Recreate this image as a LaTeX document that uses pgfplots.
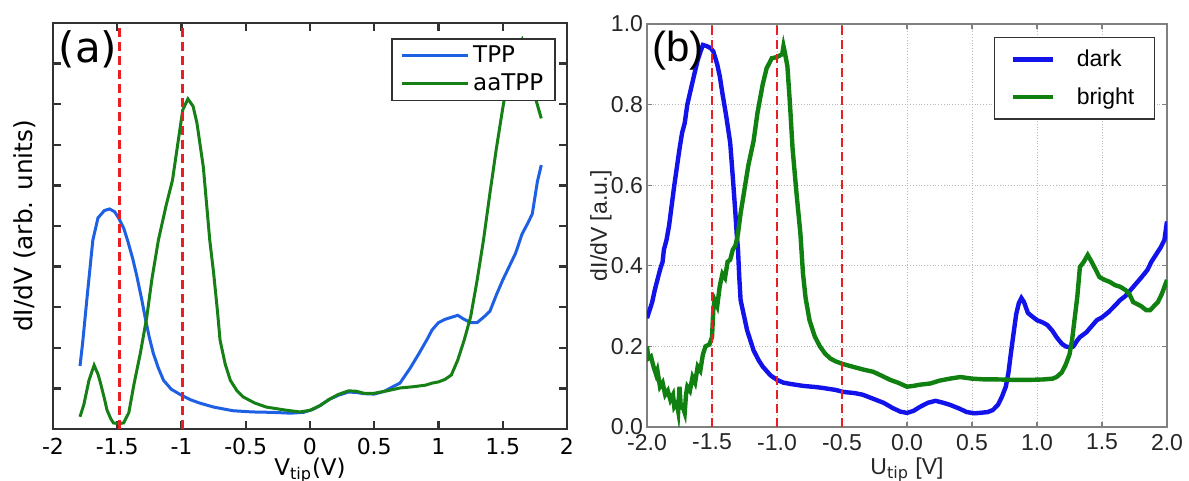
\documentclass[border=0pt]{standalone}
\usepackage{fontspec}
\setmainfont{DejaVu Sans}
\newfontfamily\arialf{Liberation Sans}
\usepackage{pgfplots}
\pgfplotsset{compat=1.18}

\definecolor{tppblue}{RGB}{30,96,228}
\definecolor{aagreen}{RGB}{22,128,22}
\definecolor{darkblue}{RGB}{18,18,235}
\definecolor{brightgreen}{RGB}{16,128,16}
\definecolor{refred}{RGB}{235,30,35}
\definecolor{axisgray}{RGB}{50,50,50}

\begin{document}
\begin{tikzpicture}
% ---------------- panel (a)
\begin{axis}[
  at={(26.5pt,26pt)}, anchor=south west,
  scale only axis, width=257pt, height=203pt,
  xmin=-2, xmax=2, ymin=0, ymax=1,
  xtick={-2,-1.5,-1,-0.5,0,0.5,1,1.5,2},
  xticklabels={-2,-1.5,-1,-0.5,0,0.5,1,1.5,2},
  ytick={0,0.1,0.2,0.3,0.4,0.5,0.6,0.7,0.8,0.9,1},
  yticklabels={},
  tick align=inside, major tick length=4pt,
  axis line style={axisgray, line width=1.4pt},
  every tick/.style={axisgray, line width=1.2pt},
  tick label style={font=\fontsize{11}{12}\selectfont},
  xticklabel style={yshift=-1pt},
  xlabel={V$_{\mathrm{tip}}$(V)},
  ylabel={dI/dV (arb. units)},
  xlabel style={font=\fontsize{11.5}{13}\selectfont, at={(axis description cs:0.5,0)}, anchor=north, inner sep=0pt, yshift=-14.5pt},
  ylabel style={font=\fontsize{12.4}{14}\selectfont, at={(axis description cs:0,0.5)}, anchor=center, inner sep=0pt, yshift=14pt},
  legend style={at={(1,1)}, anchor=north east, xshift=-5.5pt, yshift=-7.5pt,
    draw=axisgray, line width=0.8pt, fill=white,
    font=\fontsize{11.5}{13}\selectfont,
    inner xsep=4pt, inner ysep=1.5pt, row sep=0pt, cells={anchor=west}},
  legend image code/.code={\draw[#1] (0pt,0pt) -- (33pt,0pt);},
]
\addplot[tppblue, line width=1.5pt] coordinates {
(-1.79,0.155) (-1.77,0.21) (-1.73,0.34) (-1.69,0.465) (-1.65,0.52) (-1.60,0.538)
(-1.56,0.542) (-1.52,0.535) (-1.49,0.52) (-1.45,0.495) (-1.42,0.465) (-1.38,0.42)
(-1.35,0.38) (-1.31,0.32) (-1.28,0.27) (-1.25,0.225) (-1.22,0.187) (-1.18,0.15)
(-1.14,0.12) (-1.08,0.098) (-1.0,0.083) (-0.93,0.072) (-0.86,0.064) (-0.75,0.054)
(-0.6,0.045) (-0.45,0.042) (-0.3,0.041) (-0.15,0.039) (-0.05,0.041) (0.02,0.048)
(0.08,0.058) (0.15,0.073) (0.22,0.083) (0.3,0.091) (0.36,0.09) (0.42,0.087)
(0.5,0.086) (0.58,0.093) (0.65,0.105) (0.7,0.113) (0.78,0.15) (0.85,0.187)
(0.91,0.22) (0.95,0.244) (1.0,0.262) (1.05,0.27) (1.1,0.275) (1.15,0.28)
(1.2,0.27) (1.25,0.262) (1.3,0.262) (1.35,0.275) (1.4,0.29) (1.45,0.33)
(1.5,0.367) (1.55,0.4) (1.6,0.433) (1.65,0.48) (1.7,0.51) (1.73,0.53)
(1.77,0.61) (1.80,0.65)};
\addlegendentry{TPP}
\addplot[aagreen, line width=1.5pt] coordinates {
(-1.79,0.03) (-1.76,0.06) (-1.72,0.12) (-1.68,0.157) (-1.65,0.135) (-1.63,0.113)
(-1.6,0.075) (-1.58,0.047) (-1.55,0.025) (-1.53,0.015) (-1.49,0.013) (-1.45,0.015)
(-1.41,0.04) (-1.37,0.11) (-1.32,0.187) (-1.27,0.276) (-1.23,0.37) (-1.18,0.465)
(-1.12,0.55) (-1.07,0.613) (-1.03,0.7) (-0.99,0.786) (-0.95,0.813) (-0.91,0.795)
(-0.88,0.754) (-0.83,0.645) (-0.78,0.465) (-0.75,0.384) (-0.72,0.29) (-0.70,0.219)
(-0.66,0.16) (-0.62,0.12) (-0.57,0.095) (-0.52,0.079) (-0.43,0.064) (-0.34,0.054)
(-0.2,0.047) (-0.08,0.042) (0.0,0.046) (0.08,0.058) (0.15,0.073) (0.22,0.085)
(0.3,0.094) (0.36,0.093) (0.42,0.088) (0.5,0.088) (0.6,0.094) (0.7,0.101)
(0.8,0.104) (0.9,0.108) (0.95,0.113) (1.0,0.116) (1.05,0.122) (1.1,0.133)
(1.15,0.17) (1.2,0.219) (1.25,0.276) (1.3,0.365) (1.35,0.465) (1.4,0.58)
(1.45,0.69) (1.5,0.79) (1.55,0.88) (1.6,0.94) (1.65,0.96) (1.7,0.9)
(1.75,0.82) (1.8,0.765)};
\addlegendentry{aaTPP}
\addplot[refred, line width=1.4pt, dash pattern=on 4.5pt off 2.5pt, forget plot]
  coordinates {(-1.48,0) (-1.48,1)};
\addplot[refred, line width=1.4pt, dash pattern=on 4.5pt off 2.5pt, forget plot]
  coordinates {(-0.99,0) (-0.99,1)};
\node[font=\fontsize{21}{24}\selectfont, inner sep=0pt] at (axis description cs:0.068,0.936) {(a)};
\end{axis}

% ---------------- panel (b)
\begin{axis}[
  at={(323.5pt,27pt)}, anchor=south west,
  scale only axis, width=260pt, height=201.5pt,
  xmin=-2, xmax=2, ymin=0, ymax=1,
  xtick={-2,-1.5,-1,-0.5,0,0.5,1,1.5,2},
  xticklabels={-2.0,-1.5,-1.0,-0.5,0.0,0.5,1.0,1.5,2.0},
  ytick={0,0.2,0.4,0.6,0.8,1},
  yticklabels={0.0,0.2,0.4,0.6,0.8,1.0},
  tick align=inside, major tick length=2.5pt,
  axis line style={gray, line width=0.9pt},
  every tick/.style={gray, line width=0.6pt},
  grid=major,
  grid style={densely dotted, gray!55, line width=0.5pt},
  tick label style={font=\arialf\fontsize{11.5}{13}\selectfont, text=black!85},
  yticklabel style={xshift=1.5pt},
  xticklabel style={yshift=0pt},
  xlabel={U$_{\mathrm{tip}}$ [V]},
  ylabel={dI/dV [a.u.]},
  label style={font=\arialf\fontsize{11.5}{13}\selectfont, text=black!85},
  xlabel style={at={(axis description cs:0.5,0)}, anchor=north, inner sep=0pt, yshift=-15pt},
  ylabel style={at={(axis description cs:0,0.5)}, anchor=center, inner sep=0pt, yshift=23pt},
  legend style={at={(1,1)}, anchor=north east, xshift=-6pt, yshift=-6.5pt,
    draw=black!80, line width=0.7pt, fill=white,
    font=\arialf\fontsize{11.5}{13}\selectfont,
    inner xsep=8pt, inner ysep=4pt, row sep=5pt, cells={anchor=west},
    /tikz/every odd column/.append style={column sep=9pt}},
  legend image code/.code={\draw[#1] (0pt,0pt) -- (20pt,0pt);},
]
\addplot[darkblue, line width=2.2pt] coordinates {
(-2.0,0.27) (-1.98,0.29) (-1.96,0.31) (-1.94,0.34) (-1.92,0.365) (-1.9,0.39)
(-1.88,0.41) (-1.87,0.44) (-1.85,0.464) (-1.83,0.5) (-1.81,0.55) (-1.79,0.6)
(-1.77,0.645) (-1.75,0.69) (-1.73,0.73) (-1.71,0.754) (-1.69,0.8) (-1.67,0.828)
(-1.64,0.87) (-1.61,0.91) (-1.59,0.93) (-1.57,0.948) (-1.54,0.945) (-1.51,0.94)
(-1.49,0.932) (-1.46,0.9) (-1.44,0.87) (-1.42,0.828) (-1.39,0.77) (-1.36,0.705)
(-1.34,0.62) (-1.32,0.53) (-1.31,0.48) (-1.30,0.44) (-1.29,0.37) (-1.28,0.315)
(-1.25,0.27) (-1.23,0.24) (-1.18,0.19) (-1.14,0.165) (-1.11,0.15) (-1.05,0.128)
(-1.0,0.117) (-0.95,0.11) (-0.9,0.107) (-0.8,0.102) (-0.7,0.099) (-0.65,0.097)
(-0.55,0.092) (-0.49,0.087) (-0.4,0.084) (-0.34,0.08) (-0.26,0.07) (-0.18,0.06)
(-0.11,0.047) (-0.05,0.038) (0.0,0.035) (0.05,0.04) (0.1,0.05) (0.16,0.06)
(0.22,0.065) (0.28,0.06) (0.33,0.055) (0.4,0.046) (0.46,0.037) (0.52,0.034)
(0.56,0.035) (0.62,0.037) (0.66,0.042) (0.70,0.055) (0.73,0.075) (0.76,0.1)
(0.78,0.134) (0.80,0.185) (0.82,0.233) (0.84,0.28) (0.86,0.307) (0.88,0.32)
(0.90,0.31) (0.93,0.283) (0.96,0.275) (1.0,0.265) (1.04,0.26) (1.08,0.253)
(1.12,0.238) (1.15,0.223) (1.19,0.207) (1.22,0.2) (1.26,0.197) (1.28,0.2)
(1.31,0.215) (1.33,0.223) (1.38,0.235) (1.42,0.25) (1.46,0.265) (1.5,0.272)
(1.55,0.285) (1.59,0.298) (1.64,0.315) (1.68,0.325) (1.72,0.34) (1.76,0.355)
(1.8,0.37) (1.85,0.39) (1.88,0.41) (1.92,0.43) (1.95,0.445) (1.98,0.464)
(2.0,0.51)};
\addlegendentry{dark}
\addplot[brightgreen, line width=2.2pt] coordinates {
(-2.0,0.2) (-1.99,0.17) (-1.97,0.175) (-1.95,0.15) (-1.93,0.13) (-1.92,0.14)
(-1.9,0.1) (-1.88,0.11) (-1.86,0.08) (-1.84,0.09) (-1.82,0.067) (-1.80,0.08)
(-1.79,0.05) (-1.77,0.06) (-1.76,0.04) (-1.75,0.1) (-1.74,0.05) (-1.72,0.045)
(-1.71,0.035) (-1.70,0.08) (-1.69,0.1) (-1.67,0.09) (-1.65,0.124) (-1.63,0.11)
(-1.61,0.15) (-1.59,0.14) (-1.57,0.18) (-1.55,0.2) (-1.52,0.205) (-1.5,0.223)
(-1.49,0.29) (-1.48,0.315) (-1.46,0.3) (-1.44,0.35) (-1.42,0.38) (-1.4,0.37)
(-1.38,0.41) (-1.36,0.415) (-1.34,0.44) (-1.32,0.45) (-1.31,0.464) (-1.3,0.48)
(-1.28,0.53) (-1.25,0.59) (-1.22,0.65) (-1.2,0.68) (-1.18,0.71) (-1.15,0.78)
(-1.11,0.85) (-1.08,0.89) (-1.04,0.915) (-1.0,0.918) (-0.96,0.925) (-0.95,0.945)
(-0.94,0.93) (-0.92,0.895) (-0.9,0.8) (-0.88,0.69) (-0.85,0.58) (-0.82,0.48)
(-0.8,0.38) (-0.78,0.32) (-0.75,0.265) (-0.71,0.225) (-0.67,0.2) (-0.63,0.182)
(-0.59,0.17) (-0.55,0.163) (-0.49,0.156) (-0.4,0.148) (-0.33,0.142) (-0.26,0.137)
(-0.2,0.128) (-0.13,0.117) (-0.07,0.11) (0.0,0.1) (0.05,0.102) (0.1,0.105)
(0.18,0.108) (0.25,0.115) (0.33,0.12) (0.41,0.124) (0.5,0.12) (0.6,0.118)
(0.7,0.118) (0.82,0.117) (0.95,0.117) (1.05,0.118) (1.12,0.12) (1.15,0.124)
(1.19,0.135) (1.22,0.154) (1.25,0.18) (1.27,0.216) (1.29,0.27) (1.31,0.323)
(1.33,0.397) (1.36,0.41) (1.39,0.427) (1.42,0.41) (1.46,0.385) (1.48,0.372)
(1.52,0.365) (1.56,0.36) (1.6,0.352) (1.64,0.348) (1.68,0.34) (1.71,0.33)
(1.74,0.31) (1.77,0.305) (1.8,0.3) (1.84,0.29) (1.87,0.29) (1.9,0.3)
(1.93,0.31) (1.96,0.33) (2.0,0.365)};
\addlegendentry{bright}
\addplot[refred, line width=1.3pt, dash pattern=on 4.5pt off 2.5pt, forget plot]
  coordinates {(-1.5,0) (-1.5,1)};
\addplot[refred, line width=1.3pt, dash pattern=on 4.5pt off 2.5pt, forget plot]
  coordinates {(-1.0,0) (-1.0,1)};
\addplot[refred, line width=1.3pt, dash pattern=on 4.5pt off 2.5pt, forget plot]
  coordinates {(-0.5,0) (-0.5,1)};
\node[font=\arialf\fontsize{21}{24}\selectfont, inner sep=0pt] at (axis description cs:0.06,0.933) {(b)};
\node[font=\arialf\fontsize{12}{14}\selectfont, inner sep=0pt, text=black!85] at (axis description cs:-0.077,-0.045) {b};
\end{axis}
\pgfresetboundingbox
\path (0pt,0pt) rectangle (594.5pt,240.5pt);
\end{tikzpicture}
\end{document}
